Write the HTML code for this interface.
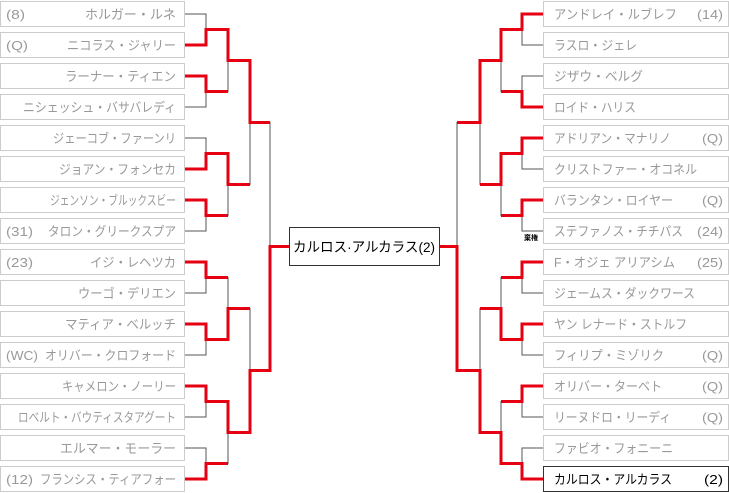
<!DOCTYPE html>
<html><head><meta charset="utf-8"><style>
html,body{margin:0;padding:0;background:#fff;width:729px;height:493px;overflow:hidden}
svg{display:block}
text{font-family:"Liberation Sans","Noto Sans CJK JP",sans-serif;font-size:13px;fill:#999}
.b{fill:#fff;stroke:#ccc;stroke-width:1}
.g{fill:none;stroke:#555;stroke-width:1}
.r{fill:none;stroke:#e60012;stroke-width:3}
</style></head><body>
<svg width="729" height="493" viewBox="0 0 729 493">
<g>
<rect class="b" x="0.5" y="1.5" width="184" height="25"/>
<rect class="b" x="0.5" y="32.5" width="184" height="25"/>
<rect class="b" x="0.5" y="63.5" width="184" height="25"/>
<rect class="b" x="0.5" y="94.5" width="184" height="25"/>
<rect class="b" x="0.5" y="125.5" width="184" height="25"/>
<rect class="b" x="0.5" y="156.5" width="184" height="25"/>
<rect class="b" x="0.5" y="187.5" width="184" height="25"/>
<rect class="b" x="0.5" y="218.5" width="184" height="25"/>
<rect class="b" x="0.5" y="249.5" width="184" height="25"/>
<rect class="b" x="0.5" y="280.5" width="184" height="25"/>
<rect class="b" x="0.5" y="311.5" width="184" height="25"/>
<rect class="b" x="0.5" y="342.5" width="184" height="25"/>
<rect class="b" x="0.5" y="373.5" width="184" height="25"/>
<rect class="b" x="0.5" y="404.5" width="184" height="25"/>
<rect class="b" x="0.5" y="435.5" width="184" height="25"/>
<rect class="b" x="0.5" y="466.5" width="184" height="25"/>

<rect class="b" x="543.5" y="1.5" width="185" height="25"/>
<rect class="b" x="543.5" y="32.5" width="185" height="25"/>
<rect class="b" x="543.5" y="63.5" width="185" height="25"/>
<rect class="b" x="543.5" y="94.5" width="185" height="25"/>
<rect class="b" x="543.5" y="125.5" width="185" height="25"/>
<rect class="b" x="543.5" y="156.5" width="185" height="25"/>
<rect class="b" x="543.5" y="187.5" width="185" height="25"/>
<rect class="b" x="543.5" y="218.5" width="185" height="25"/>
<rect class="b" x="543.5" y="249.5" width="185" height="25"/>
<rect class="b" x="543.5" y="280.5" width="185" height="25"/>
<rect class="b" x="543.5" y="311.5" width="185" height="25"/>
<rect class="b" x="543.5" y="342.5" width="185" height="25"/>
<rect class="b" x="543.5" y="373.5" width="185" height="25"/>
<rect class="b" x="543.5" y="404.5" width="185" height="25"/>
<rect class="b" x="543.5" y="435.5" width="185" height="25"/>
<rect x="543.5" y="466.5" width="185" height="25" fill="#fff" stroke="#333"/>

<rect x="289.5" y="227.5" width="150" height="38" fill="#fff" stroke="#333"/>
</g>

<path class="g" d="M185 14H206V45H185 M185 76H206V107H185 M185 138H206V169H185 M185 200H206V231H185 M185 262H206V293H185 M185 324H206V355H185 M185 386H206V417H185 M185 448H206V479H185
M206 29.5H228V91.5H206 M206 153.5H228V215.5H206 M206 277.5H228V339.5H206 M206 401.5H228V463.5H206
M228 60.5H250V184.5H228 M228 308.5H250V432.5H228 M250 122.5H270V370.5H250"/>
<path class="g" d="M543 14H522V45H543 M543 76H522V107H543 M543 138H522V169H543 M543 200H522V231H543 M543 262H522V293H543 M543 324H522V355H543 M543 386H522V417H543 M543 448H522V479H543
M522 29.5H501V91.5H522 M522 153.5H501V215.5H522 M522 277.5H501V339.5H522 M522 401.5H501V463.5H522
M501 60.5H480V184.5H501 M501 308.5H480V432.5H501 M480 122.5H457V370.5H480"/>

<path class="r" d="M185 45H206V29.5H228V60.5H250V122.5H270"/>
<path class="r" d="M185 76H206V91.5H228"/>
<path class="r" d="M185 169H206V153.5H228V184.5H250"/>
<path class="r" d="M185 200H206V215.5H228"/>
<path class="r" d="M185 262H206V277.5H228"/>
<path class="r" d="M185 324H206V339.5H228V308.5H250"/>
<path class="r" d="M185 386H206V401.5H228V432.5H250V370.5H270V246.5H289"/>
<path class="r" d="M185 479H206V463.5H228"/>
<path class="r" d="M543 14H522V29.5H501V60.5H480V122.5H457"/>
<path class="r" d="M543 107H522V91.5H501"/>
<path class="r" d="M543 138H522V153.5H501V184.5H480"/>
<path class="r" d="M543 200H522V215.5H501"/>
<path class="r" d="M543 262H522V277.5H501"/>
<path class="r" d="M543 324H522V339.5H501V308.5H480"/>
<path class="r" d="M543 386H522V401.5H501"/>
<path class="r" d="M543 479H522V463.5H501V432.5H480V370.5H457V246.5H440"/>

<g lengthAdjust="spacingAndGlyphs">
<text x="6" y="19" textLength="19" lengthAdjust="spacingAndGlyphs">(8)</text><text x="85" y="19" textLength="91" lengthAdjust="spacingAndGlyphs">ホルガー・ルネ</text>
<text x="6" y="50" textLength="22" lengthAdjust="spacingAndGlyphs">(Q)</text><text x="67" y="50" textLength="109" lengthAdjust="spacingAndGlyphs">ニコラス・ジャリー</text>
<text x="65" y="81" textLength="111" lengthAdjust="spacingAndGlyphs">ラーナー・ティエン</text>
<text x="23" y="112" textLength="153" lengthAdjust="spacingAndGlyphs">ニシェッシュ・バサバレディ</text>
<text x="53" y="143" textLength="123" lengthAdjust="spacingAndGlyphs">ジェーコブ・ファーンリ</text>
<text x="59" y="174" textLength="117" lengthAdjust="spacingAndGlyphs">ジョアン・フォンセカ</text>
<text x="50" y="205" textLength="126" lengthAdjust="spacingAndGlyphs">ジェンソン・ブルックスビー</text>
<text x="6" y="236" textLength="27" lengthAdjust="spacingAndGlyphs">(31)</text><text x="48" y="236" textLength="128" lengthAdjust="spacingAndGlyphs">タロン・グリークスプア</text>
<text x="6" y="267" textLength="27" lengthAdjust="spacingAndGlyphs">(23)</text><text x="90" y="267" textLength="86" lengthAdjust="spacingAndGlyphs">イジ・レヘツカ</text>
<text x="78" y="298" textLength="98" lengthAdjust="spacingAndGlyphs">ウーゴ・デリエン</text>
<text x="65" y="329" textLength="111" lengthAdjust="spacingAndGlyphs">マティア・ベルッチ</text>
<text x="6" y="360" textLength="32" lengthAdjust="spacingAndGlyphs">(WC)</text><text x="45" y="360" textLength="131" lengthAdjust="spacingAndGlyphs">オリバー・クロフォード</text>
<text x="62" y="391" textLength="114" lengthAdjust="spacingAndGlyphs">キャメロン・ノーリー</text>
<text x="18" y="422" textLength="158" lengthAdjust="spacingAndGlyphs">ロベルト・バウティスタアグート</text>
<text x="60" y="453" textLength="116" lengthAdjust="spacingAndGlyphs">エルマー・モーラー</text>
<text x="6" y="484" textLength="27" lengthAdjust="spacingAndGlyphs">(12)</text><text x="40" y="484" textLength="136" lengthAdjust="spacingAndGlyphs">フランシス・ティアフォー</text>
</g>
<g>
<text x="554" y="19" textLength="123" lengthAdjust="spacingAndGlyphs">アンドレイ・ルブレフ</text><text x="697" y="19" textLength="26" lengthAdjust="spacingAndGlyphs">(14)</text>
<text x="554" y="50" textLength="83" lengthAdjust="spacingAndGlyphs">ラスロ・ジェレ</text>
<text x="554" y="81" textLength="89" lengthAdjust="spacingAndGlyphs">ジザウ・ベルグ</text>
<text x="554" y="112" textLength="82" lengthAdjust="spacingAndGlyphs">ロイド・ハリス</text>
<text x="554" y="143" textLength="117" lengthAdjust="spacingAndGlyphs">アドリアン・マナリノ</text><text x="702" y="143" textLength="21" lengthAdjust="spacingAndGlyphs">(Q)</text>
<text x="554" y="174" textLength="143" lengthAdjust="spacingAndGlyphs">クリストファー・オコネル</text>
<text x="554" y="205" textLength="119" lengthAdjust="spacingAndGlyphs">バランタン・ロイヤー</text><text x="702" y="205" textLength="21" lengthAdjust="spacingAndGlyphs">(Q)</text>
<text x="554" y="236" textLength="129" lengthAdjust="spacingAndGlyphs">ステファノス・チチパス</text><text x="697" y="236" textLength="26" lengthAdjust="spacingAndGlyphs">(24)</text>
<text x="554" y="267" textLength="121" lengthAdjust="spacingAndGlyphs">F・オジェ アリアシム</text><text x="697" y="267" textLength="26" lengthAdjust="spacingAndGlyphs">(25)</text>
<text x="554" y="298" textLength="141" lengthAdjust="spacingAndGlyphs">ジェームス・ダックワース</text>
<text x="554" y="329" textLength="133" lengthAdjust="spacingAndGlyphs">ヤン レナード・ストルフ</text>
<text x="554" y="360" textLength="110" lengthAdjust="spacingAndGlyphs">フィリプ・ミゾリク</text><text x="702" y="360" textLength="21" lengthAdjust="spacingAndGlyphs">(Q)</text>
<text x="554" y="391" textLength="108" lengthAdjust="spacingAndGlyphs">オリバー・ターベト</text><text x="702" y="391" textLength="21" lengthAdjust="spacingAndGlyphs">(Q)</text>
<text x="554" y="422" textLength="117" lengthAdjust="spacingAndGlyphs">リーヌドロ・リーディ</text><text x="702" y="422" textLength="21" lengthAdjust="spacingAndGlyphs">(Q)</text>
<text x="554" y="453" textLength="119" lengthAdjust="spacingAndGlyphs">ファビオ・フォニーニ</text>
<text x="554" y="484" textLength="118" lengthAdjust="spacingAndGlyphs" style="fill:#000">カルロス・アルカラス</text><text x="704" y="484" textLength="19" lengthAdjust="spacingAndGlyphs" style="fill:#000">(2)</text>
</g>
<text x="524" y="240" style="font-size:7px;fill:#000;font-weight:bold">棄権</text>
<text x="293" y="252" textLength="142" lengthAdjust="spacingAndGlyphs" style="font-size:14px;fill:#000">カルロス·アルカラス(2)</text>
</svg>
</body></html>
